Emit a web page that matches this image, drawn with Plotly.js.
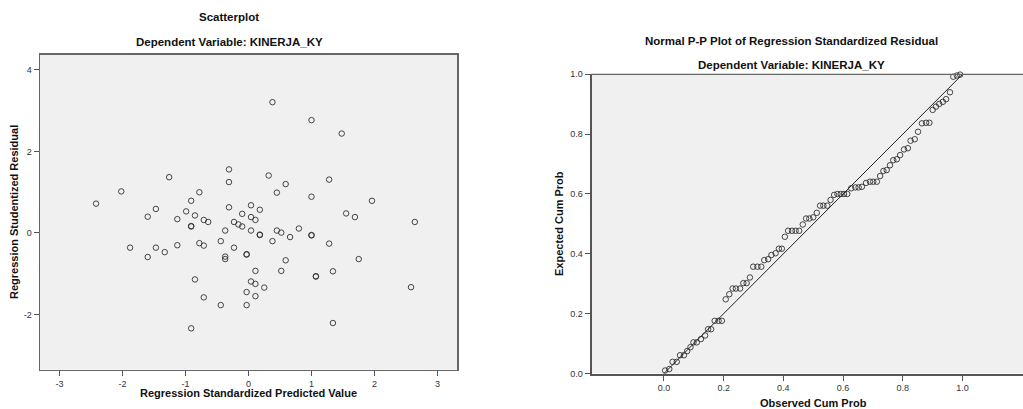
<!DOCTYPE html>
<html>
<head>
<meta charset="utf-8">
<script src="https://cdn.plot.ly/plotly-3.0.1.min.js"></script>
<style>html,body{margin:0;padding:0;background:#fff;}#chart{width:1023px;height:409px;}</style>
</head>
<body>
<div id="chart"></div>
<script>
// Scatterplot: Regression Standardized Predicted Value vs Regression Studentized Residual
const predictedValue = [-2.42,-2.02,-1.88,-1.60,-1.60,-1.47,-1.47,-1.33,-1.26,-1.13,-1.13,-0.99,-0.91,-0.91,-0.91,-0.91,-0.85,-0.85,-0.78,-0.78,-0.71,-0.71,-0.71,-0.64,-0.44,-0.44,-0.37,-0.37,-0.37,-0.31,-0.31,-0.31,-0.23,-0.23,-0.16,-0.10,-0.10,-0.03,-0.03,-0.03,-0.03,0.04,0.04,0.04,0.04,0.11,0.11,0.11,0.11,0.18,0.18,0.18,0.25,0.32,0.38,0.38,0.45,0.45,0.52,0.52,0.59,0.59,0.66,0.80,1.00,1.00,1.00,1.00,1.07,1.07,1.28,1.28,1.34,1.34,1.48,1.55,1.69,1.75,1.96,2.58,2.64];
const studentizedResidual = [0.72,1.02,-0.36,0.40,-0.59,0.59,-0.36,-0.47,1.37,0.34,-0.30,0.53,0.79,0.16,0.17,-2.34,0.43,-1.14,1.00,-0.25,0.32,-0.31,-1.58,0.27,-0.20,-1.77,0.06,-0.58,-0.64,1.56,1.25,0.63,0.27,-0.36,0.21,0.47,0.16,-0.52,-0.53,-1.45,-1.77,0.68,0.39,0.06,-1.19,0.32,-0.93,-1.25,-1.55,0.57,-0.05,-0.04,-1.34,1.41,3.21,-0.20,0.99,0.06,0.01,-0.93,1.20,-0.67,-0.10,0.11,2.77,0.89,-0.05,-0.06,-1.06,-1.07,1.31,-0.26,-0.94,-2.21,2.44,0.48,0.39,-0.64,0.79,-1.33,0.27];
const scatterXTicks = [-3,-2,-1,0,1,2,3];
const scatterXTickText = ['-3','-2','-1','0','1','2','3'];
const scatterYTicks = [-2,0,2,4];
const scatterYTickText = ['-2','0','2','4'];

// Normal P-P plot
const observedCumProb = [0.004,0.018,0.029,0.043,0.054,0.067,0.078,0.089,0.099,0.110,0.124,0.138,0.148,0.158,0.170,0.183,0.194,0.207,0.219,0.230,0.241,0.255,0.266,0.277,0.288,0.299,0.313,0.326,0.336,0.349,0.360,0.374,0.385,0.395,0.405,0.416,0.429,0.441,0.453,0.465,0.476,0.487,0.500,0.512,0.523,0.534,0.547,0.558,0.570,0.581,0.592,0.603,0.614,0.627,0.641,0.652,0.663,0.677,0.690,0.701,0.713,0.724,0.735,0.746,0.757,0.768,0.780,0.791,0.804,0.817,0.826,0.840,0.851,0.864,0.878,0.889,0.900,0.911,0.922,0.934,0.945,0.958,0.969,0.981,0.992];
const expectedCumProb = [0.010,0.015,0.039,0.039,0.061,0.061,0.075,0.088,0.104,0.104,0.115,0.127,0.148,0.148,0.176,0.176,0.176,0.248,0.265,0.284,0.284,0.284,0.302,0.302,0.321,0.357,0.357,0.357,0.379,0.382,0.396,0.402,0.417,0.417,0.457,0.477,0.477,0.477,0.477,0.498,0.518,0.518,0.522,0.537,0.561,0.561,0.561,0.580,0.597,0.600,0.600,0.600,0.600,0.619,0.622,0.622,0.624,0.637,0.641,0.641,0.641,0.660,0.677,0.680,0.696,0.713,0.716,0.730,0.749,0.753,0.778,0.783,0.808,0.836,0.838,0.838,0.881,0.892,0.901,0.908,0.917,0.940,0.992,0.996,0.999];
const refLineX = [0, 1];
const refLineY = [0, 1];
const ppTicks = [0, 0.2, 0.4, 0.6, 0.8, 1.0];
const ppTickText = ['0.0','0.2','0.4','0.6','0.8','1.0'];

const W = 1023, H = 409;
const px = v => v / W;
const py = v => 1 - v / H;

const markerStyle = {symbol: 'circle-open', size: 5.5, color: 'rgba(40,40,40,0.85)', line: {width: 1}};
const tickFont = {family: 'Liberation Sans, Arial, sans-serif', size: 9, color: '#333'};

const traces = [
  {type: 'scatter', mode: 'markers', x: predictedValue, y: studentizedResidual, xaxis: 'x', yaxis: 'y', marker: markerStyle, hoverinfo: 'x+y'},
  {type: 'scatter', mode: 'lines', x: refLineX, y: refLineY, xaxis: 'x2', yaxis: 'y2', line: {color: '#222', width: 1}, hoverinfo: 'skip'},
  {type: 'scatter', mode: 'markers', x: observedCumProb, y: expectedCumProb, xaxis: 'x2', yaxis: 'y2', marker: markerStyle, cliponaxis: false, hoverinfo: 'x+y'}
];

const titleFont = {family: 'Liberation Sans, Arial, sans-serif', size: 11.5, color: '#111'};
const axTitleFont = {family: 'Liberation Sans, Arial, sans-serif', size: 11, color: '#111'};

function ann(text, x, y, font, angle) {
  return {text: '<b>' + text + '</b>', xref: 'paper', yref: 'paper', x: px(x), y: py(y), xanchor: 'center', yanchor: 'middle', showarrow: false, font: font, textangle: angle || 0};
}

const layout = {
  width: W, height: H,
  margin: {l: 0, r: 0, t: 0, b: 0},
  paper_bgcolor: '#ffffff',
  plot_bgcolor: '#f0f0f0',
  showlegend: false,
  xaxis: {
    domain: [px(40), px(457)], range: [-3.31, 3.31], anchor: 'y',
    tickvals: scatterXTicks, ticktext: scatterXTickText, ticks: 'outside', ticklen: 5, tickcolor: '#555', tickfont: tickFont,
    showgrid: false, zeroline: false, showline: true, linecolor: '#666', linewidth: 1.5, mirror: true
  },
  yaxis: {
    domain: [1 - 369.5 / H, 1 - 54.5 / H], range: [-3.35, 4.38], anchor: 'x',
    tickvals: scatterYTicks, ticktext: scatterYTickText, ticks: 'outside', ticklen: 5, tickcolor: '#555', tickfont: tickFont,
    showgrid: false, zeroline: false, showline: true, linecolor: '#666', linewidth: 1.5, mirror: true
  },
  xaxis2: {
    domain: [px(591.5), 1], range: [-0.2425, 1.2025], anchor: 'y2',
    tickvals: ppTicks, ticktext: ppTickText, ticks: 'outside', ticklen: 5, tickcolor: '#555', tickfont: tickFont,
    showgrid: false, zeroline: false, showline: true, linecolor: '#555', linewidth: 2
  },
  yaxis2: {
    domain: [1 - 373.5 / H, 1 - 74.3 / H], range: [0, 1.0], anchor: 'x2',
    tickvals: ppTicks, ticktext: ppTickText, ticks: 'outside', ticklen: 5, tickcolor: '#555', tickfont: tickFont,
    showgrid: false, zeroline: false, showline: true, linecolor: '#555', linewidth: 2
  },
  shapes: [
    {type: 'line', xref: 'paper', yref: 'paper', x0: px(591.5), x1: 1, y0: py(74.3), y1: py(74.3), line: {color: '#666', width: 1.2}}
  ],
  annotations: [
    ann('Scatterplot', 229, 17.5, titleFont),
    ann('Dependent Variable: KINERJA_KY', 229, 42, titleFont),
    ann('Regression Standardized Predicted Value', 248, 393, axTitleFont),
    ann('Regression Studentized Residual', 14, 212, axTitleFont, -90),
    ann('Normal P-P Plot of Regression Standardized Residual', 791.5, 41, titleFont),
    ann('Dependent Variable: KINERJA_KY', 791.5, 65, titleFont),
    ann('Observed Cum Prob', 813, 403, axTitleFont),
    ann('Expected Cum Prob', 559, 224, axTitleFont, -90)
  ]
};

Plotly.newPlot('chart', traces, layout, {displayModeBar: false, staticPlot: true});
</script>
</body>
</html>
